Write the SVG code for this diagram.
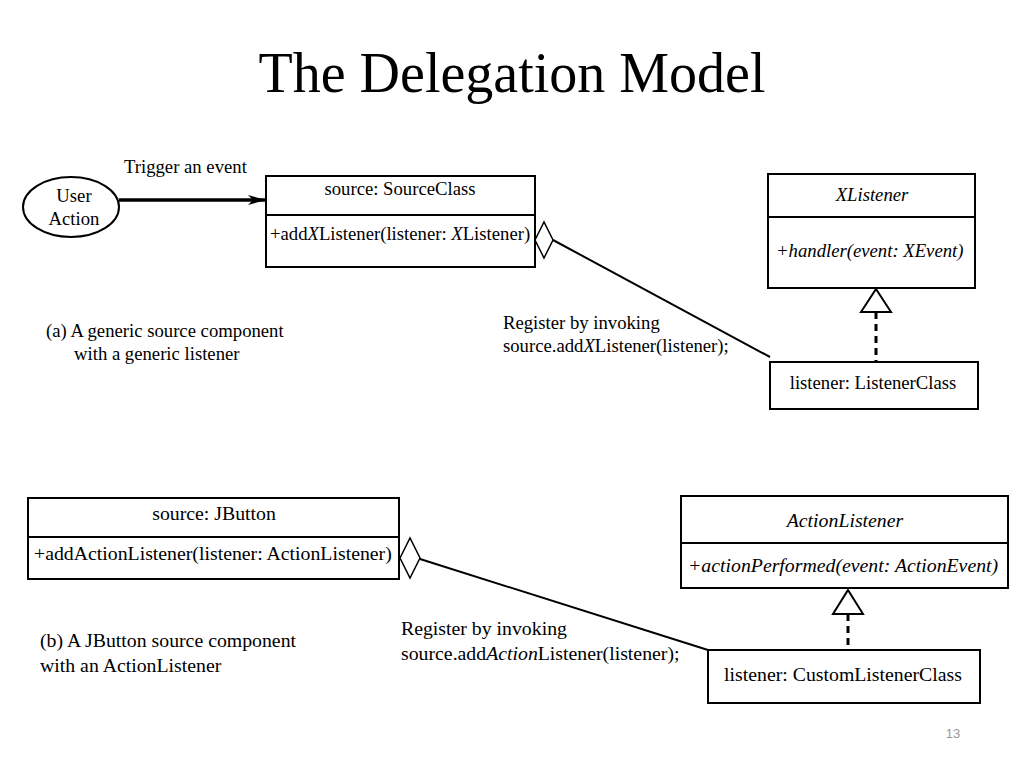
<svg xmlns="http://www.w3.org/2000/svg" width="1024" height="768" viewBox="0 0 1024 768">
<style>
text{font-family:"Liberation Serif","Times New Roman",serif;font-size:18.7px;fill:#000}
.b{font-size:19.8px}
.it{font-style:italic}
.c{text-anchor:middle}
.box{fill:#fff;stroke:#000;stroke-width:2}
.ln{stroke:#000;stroke-width:2;fill:none}
.dash{stroke:#000;stroke-width:3;stroke-dasharray:7,5;fill:none}
.tri{fill:#fff;stroke:#000;stroke-width:2}
.dia{fill:#fff;stroke:#000;stroke-width:1.5}
</style>
<defs>
<marker id="arr" viewBox="0 0 18 10" refX="18" refY="5" markerWidth="18" markerHeight="10" markerUnits="userSpaceOnUse" orient="auto">
<path d="M0,0 L18,5 L0,10 L5,5 Z" fill="#000"/>
</marker>
</defs>
<rect width="1024" height="768" fill="#fff"/>
<text x="512" y="92" class="c" style="font-size:56px">The Delegation Model</text>

<g id="connectors">
<line x1="119" y1="200" x2="266" y2="200" stroke="#000" stroke-width="3.5" marker-end="url(#arr)"/>
<polyline class="ln" points="553,240 770,357"/>
<line class="dash" x1="876" y1="312" x2="876" y2="362"/>
<polyline class="ln" points="420,559 708,650"/>
<line class="dash" x1="848" y1="614" x2="848" y2="650"/>
<path class="dia" d="M535,240 L544,222 L553,240 L544,258 Z"/>
<path class="tri" d="M876,289 L891,312 L861,312 Z"/>
<path class="dia" d="M400,558 L410,538 L420,558 L410,578 Z"/>
<path class="tri" d="M848,590 L863,614 L833,614 Z"/>
</g>

<g id="userAction">
<ellipse cx="71" cy="207" rx="48" ry="30" fill="#fff" stroke="#000" stroke-width="2"/>
<text x="74" y="202" class="c">User</text>
<text x="74" y="225" class="c">Action</text>
</g>
<text x="124" y="173">Trigger an event</text>

<g id="sourceClass">
<rect class="box" x="266" y="176" width="269" height="91"/>
<line class="ln" x1="266" y1="215" x2="535" y2="215"/>
<text x="400" y="195" class="c">source: SourceClass</text>
<text x="270" y="240">+add<tspan class="it">X</tspan>Listener(listener: <tspan class="it">X</tspan>Listener)</text>
</g>

<g id="xListener">
<rect class="box" x="768" y="174" width="207" height="114"/>
<line class="ln" x1="768" y1="217" x2="975" y2="217"/>
<text x="872" y="201" class="c it">XListener</text>
<text x="776" y="257" class="it">+handler(event: XEvent)</text>
</g>

<g id="listenerClass">
<rect class="box" x="770" y="362" width="208" height="47"/>
<text x="873" y="389" class="c">listener: ListenerClass</text>
</g>

<text x="503" y="329">Register by invoking</text>
<text x="503" y="352">source.add<tspan class="it">X</tspan>Listener(listener);</text>
<text x="46" y="337">(a) A generic source component</text>
<text x="74" y="360">with a generic listener</text>

<g id="jButton">
<rect class="box" x="28" y="498" width="371" height="81"/>
<line class="ln" x1="28" y1="537" x2="399" y2="537"/>
<text x="214" y="520" class="c b">source: JButton</text>
<text x="34" y="560" class="b">+addActionListener(listener: ActionListener)</text>
</g>

<g id="actionListener">
<rect class="box" x="681" y="496" width="327" height="92"/>
<line class="ln" x1="681" y1="543" x2="1008" y2="543"/>
<text x="845" y="527" class="c it b">ActionListener</text>
<text x="688" y="572" class="it b">+actionPerformed(event: ActionEvent)</text>
</g>

<g id="customListenerClass">
<rect class="box" x="708" y="650" width="272" height="53"/>
<text x="843" y="681" class="c b">listener: CustomListenerClass</text>
</g>

<text x="401" y="635" class="b">Register by invoking</text>
<text x="401" y="660" class="b">source.add<tspan class="it">Action</tspan>Listener(listener);</text>
<text x="40" y="647" class="b">(b) A JButton source component</text>
<text x="40" y="672" class="b">with an ActionListener</text>

<text x="953" y="738" class="c" style="font-family:'Liberation Sans',Arial,sans-serif;font-size:13px;fill:#999">13</text>
</svg>
